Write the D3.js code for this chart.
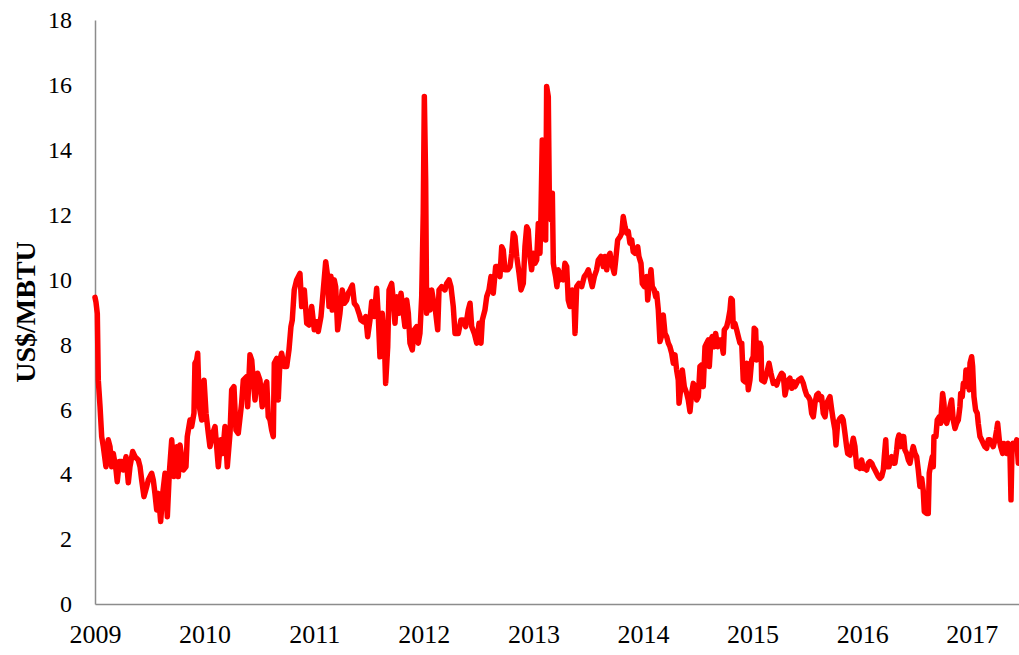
<!DOCTYPE html>
<html><head><meta charset="utf-8">
<script src="https://cdn.jsdelivr.net/npm/d3@7"></script>
<style>body{margin:0;background:#fff}svg{display:block}</style>
</head><body><svg id="c" width="1019" height="655"></svg>
<script>
const years = [2009.000,2009.009,2009.021,2009.030,2009.046,2009.061,2009.076,2009.100,2009.121,2009.137,2009.152,2009.167,2009.192,2009.203,2009.222,2009.244,2009.258,2009.283,2009.304,2009.319,2009.344,2009.365,2009.395,2009.411,2009.426,2009.447,2009.472,2009.486,2009.517,2009.532,2009.547,2009.563,2009.578,2009.599,2009.618,2009.639,2009.660,2009.678,2009.700,2009.721,2009.745,2009.760,2009.776,2009.806,2009.830,2009.842,2009.867,2009.882,2009.903,2009.912,2009.928,2009.937,2009.952,2009.974,2009.995,
2010.013,2010.034,2010.049,2010.074,2010.095,2010.110,2010.125,2010.147,2010.165,2010.186,2010.207,2010.232,2010.247,2010.268,2010.286,2010.307,2010.338,2010.353,2010.384,2010.393,2010.414,2010.430,2010.444,2010.460,2010.484,2010.505,2010.526,2010.551,2010.567,2010.581,2010.597,2010.612,2010.627,2010.636,2010.658,2010.672,2010.688,2010.703,2010.727,2010.749,2010.770,2010.788,2010.800,2010.818,2010.840,2010.855,2010.870,2010.886,2010.910,2010.932,2010.953,2010.977,
2011.001,2011.023,2011.037,2011.062,2011.083,2011.105,2011.123,2011.135,2011.153,2011.165,2011.183,2011.196,2011.214,2011.235,2011.256,2011.275,2011.297,2011.311,2011.327,2011.348,2011.366,2011.388,2011.409,2011.427,2011.448,2011.470,2011.488,2011.509,2011.525,2011.548,2011.570,2011.585,2011.600,2011.621,2011.640,2011.652,2011.671,2011.683,2011.707,2011.722,2011.737,2011.753,2011.774,2011.792,2011.813,2011.828,2011.844,2011.859,2011.874,2011.895,2011.913,2011.935,2011.950,2011.965,2011.981,2011.995,
2012.005,2012.017,2012.026,2012.041,2012.057,2012.072,2012.087,2012.102,2012.127,2012.139,2012.163,2012.193,2012.209,2012.230,2012.248,2012.269,2012.285,2012.315,2012.339,2012.360,2012.382,2012.406,2012.422,2012.437,2012.461,2012.483,2012.504,2012.522,2012.534,2012.558,2012.574,2012.595,2012.613,2012.634,2012.656,2012.680,2012.695,2012.711,2012.725,2012.741,2012.766,2012.787,2012.802,2012.817,2012.832,2012.848,2012.869,2012.887,2012.908,2012.923,2012.939,2012.953,2012.969,2012.984,2012.999,
2013.015,2013.030,2013.045,2013.060,2013.069,2013.081,2013.099,2013.112,2013.121,2013.136,2013.145,2013.161,2013.173,2013.182,2013.191,2013.203,2013.215,2013.227,2013.243,2013.258,2013.273,2013.288,2013.304,2013.318,2013.334,2013.355,2013.373,2013.380,2013.395,2013.416,2013.441,2013.464,2013.486,2013.501,2013.516,2013.537,2013.556,2013.577,2013.592,2013.617,2013.638,2013.653,2013.669,2013.683,2013.699,2013.714,2013.738,2013.751,2013.769,2013.790,2013.806,2013.820,2013.836,2013.851,2013.866,2013.881,2013.897,2013.911,2013.927,2013.952,2013.963,2013.982,2013.994,
2014.012,2014.034,2014.043,2014.055,2014.073,2014.085,2014.103,2014.116,2014.125,2014.140,2014.155,2014.176,2014.185,2014.201,2014.216,2014.231,2014.246,2014.262,2014.277,2014.292,2014.307,2014.322,2014.329,2014.347,2014.359,2014.377,2014.399,2014.413,2014.429,2014.444,2014.459,2014.474,2014.490,2014.505,2014.520,2014.535,2014.550,2014.566,2014.581,2014.596,2014.605,2014.620,2014.632,2014.650,2014.663,2014.681,2014.693,2014.712,2014.733,2014.742,2014.764,2014.778,2014.794,2014.803,2014.815,2014.824,2014.839,2014.855,2014.870,2014.885,2014.901,2014.915,2014.931,2014.946,2014.961,2014.976,2014.992,
2015.006,2015.015,2015.028,2015.037,2015.052,2015.067,2015.077,2015.083,2015.107,2015.129,2015.150,2015.168,2015.189,2015.204,2015.220,2015.234,2015.250,2015.265,2015.280,2015.296,2015.311,2015.326,2015.341,2015.357,2015.371,2015.387,2015.402,2015.417,2015.442,2015.463,2015.478,2015.494,2015.508,2015.524,2015.539,2015.554,2015.569,2015.585,2015.600,2015.615,2015.630,2015.645,2015.661,2015.676,2015.691,2015.706,2015.722,2015.736,2015.752,2015.761,2015.776,2015.797,2015.813,2015.827,2015.843,2015.858,2015.868,2015.889,2015.904,2015.919,2015.934,2015.950,2015.964,2015.980,2015.995,
2016.010,2016.025,2016.041,2016.056,2016.071,2016.087,2016.101,2016.117,2016.132,2016.147,2016.162,2016.178,2016.193,2016.202,2016.215,2016.226,2016.245,2016.254,2016.269,2016.284,2016.299,2016.315,2016.324,2016.336,2016.354,2016.366,2016.379,2016.390,2016.406,2016.421,2016.436,2016.452,2016.466,2016.482,2016.497,2016.512,2016.527,2016.543,2016.557,2016.567,2016.588,2016.603,2016.612,2016.628,2016.640,2016.649,2016.655,2016.673,2016.685,2016.704,2016.716,2016.734,2016.746,2016.755,2016.771,2016.786,2016.801,2016.816,2016.831,2016.847,2016.862,2016.877,2016.892,2016.899,2016.913,2016.923,2016.938,2016.947,2016.959,2016.977,2016.984,2016.999,
2017.008,2017.020,2017.035,2017.050,2017.059,2017.075,2017.090,2017.105,2017.120,2017.136,2017.151,2017.166,2017.181,2017.196,2017.212,2017.227,2017.236,2017.251,2017.264,2017.282,2017.294,2017.303,2017.318,2017.333,2017.348,2017.358,2017.367,2017.377,2017.394,2017.410,2017.425,2017.431];
const prices = [9.45,9.30,8.95,6.90,6.08,5.16,4.85,4.23,5.06,4.85,4.23,4.64,4.13,3.77,4.39,4.39,4.13,4.54,3.74,4.23,4.70,4.54,4.44,4.23,3.82,3.31,3.62,3.82,4.03,3.82,3.41,2.90,3.41,2.54,3.41,4.03,2.69,4.03,5.06,3.93,4.85,3.93,4.90,4.13,4.23,5.16,5.67,5.47,5.88,7.42,7.52,7.73,6.08,5.67,6.90,
5.88,5.26,4.85,5.26,5.47,4.85,4.23,5.06,4.64,5.47,4.23,5.26,6.60,6.70,5.36,5.26,6.19,6.90,7.01,6.08,7.68,7.52,6.90,6.29,7.11,6.90,6.08,6.70,6.85,5.77,5.67,5.36,5.16,7.42,7.57,6.29,7.52,7.73,7.32,7.32,7.83,8.55,8.75,9.68,9.99,10.09,10.19,9.17,9.68,8.65,8.60,9.17,
8.45,8.70,8.40,8.86,9.68,10.55,10.09,9.17,10.10,9.06,9.99,9.78,8.45,8.96,9.68,9.27,9.37,9.58,9.68,9.83,9.27,9.17,8.96,8.75,8.70,8.86,8.24,8.75,9.32,8.86,9.73,8.86,7.62,8.96,8.14,6.80,7.93,9.68,9.88,9.37,8.65,9.47,8.96,9.58,8.96,8.55,9.37,8.96,8.04,7.83,8.45,8.55,8.04,8.34,9.47,12.04,
15.64,13.07,8.96,9.68,9.06,9.68,9.37,9.17,8.45,9.68,9.78,9.68,9.88,9.99,9.78,9.17,8.34,8.34,8.75,8.75,8.55,9.06,9.27,8.55,8.34,8.04,8.65,8.04,8.75,9.06,9.47,9.68,10.09,9.58,10.40,10.40,10.09,11.01,10.91,10.30,10.30,10.40,10.81,11.43,11.32,10.71,10.20,9.68,9.88,11.01,11.63,11.53,10.71,10.30,10.81,
10.50,10.60,11.73,10.81,11.94,14.30,14.10,11.22,15.95,15.64,12.66,11.84,12.66,10.50,10.30,10.09,9.78,10.30,9.99,10.19,9.99,10.50,10.40,9.37,9.17,9.68,9.06,8.34,9.78,9.88,9.78,10.09,10.19,10.30,10.09,9.78,10.09,10.30,10.60,10.71,10.40,10.71,10.30,10.71,10.81,10.50,10.19,10.60,11.22,11.32,11.43,11.94,11.63,11.43,11.48,11.12,11.22,10.86,10.81,11.01,10.71,10.50,9.88,
9.78,10.09,9.37,9.78,10.30,9.78,9.68,9.47,9.58,9.06,8.09,8.34,8.91,8.34,8.24,8.04,7.93,7.73,7.42,7.68,7.21,6.90,6.19,6.70,7.21,6.70,6.49,6.29,5.93,6.49,6.80,6.70,6.29,6.39,7.32,7.37,6.70,7.93,8.04,8.14,7.32,8.14,8.24,7.93,8.34,7.93,8.14,8.14,7.73,8.45,8.55,8.75,9.06,9.42,9.37,8.55,8.65,8.45,8.24,8.04,8.04,6.90,6.85,7.42,6.60,6.90,7.52,
7.62,8.50,8.45,7.52,7.62,8.04,7.93,6.90,6.85,7.11,7.42,7.11,6.80,6.85,6.75,6.90,7.01,7.11,7.06,6.44,6.70,6.90,6.96,6.65,6.85,6.70,6.80,6.90,6.96,6.80,6.60,6.44,6.39,6.29,5.88,5.77,6.19,6.44,6.49,6.29,6.39,5.88,5.77,6.19,6.29,6.39,5.98,5.67,5.36,4.90,5.57,5.72,5.77,5.67,5.26,4.85,4.64,4.59,4.85,5.11,4.85,4.23,4.23,4.18,4.44,
4.18,4.18,4.13,4.34,4.39,4.34,4.23,4.13,4.03,3.93,3.87,3.93,4.13,4.54,5.06,4.23,4.23,4.44,4.54,4.34,4.34,4.75,5.06,5.21,4.85,5.16,5.16,4.75,4.64,4.44,4.34,4.64,4.85,4.64,4.54,4.13,3.62,3.87,3.51,2.85,2.79,2.79,4.03,4.34,4.54,4.23,5.16,5.16,5.67,5.77,5.57,6.49,6.19,5.67,5.57,5.77,6.08,6.29,5.67,5.41,5.57,5.67,6.08,6.49,6.39,6.80,6.70,7.21,7.01,6.60,7.42,7.62,
7.32,6.39,5.98,5.88,5.57,5.16,5.06,4.95,4.85,4.80,5.06,5.06,4.95,4.85,5.06,5.36,5.57,5.06,4.85,4.64,4.95,4.75,4.64,4.95,4.75,3.21,4.75,4.95,4.85,5.06,4.34,4.40];
const yTicks = [0,2,4,6,8,10,12,14,16,18];
const xTicks = [2009,2010,2011,2012,2013,2014,2015,2016,2017];
const yTitle = "US$/MBTU";

const svg = d3.select("#c");
const mLeft = 95, mRight = 1019, mTop = 20, mBottom = 604;
const x = d3.scaleLinear().domain([2009, d3.max(years)]).range([mLeft, mRight]);
const y = d3.scaleLinear().domain([0, 18]).range([mBottom, mTop]);
const data = years.map((t, i) => ({t, v: prices[i]}));

const font = "'Liberation Serif','Times New Roman',serif";

const xAxis = svg.append("g").attr("transform", `translate(0,${mBottom})`)
  .call(d3.axisBottom(x).tickValues(xTicks).tickFormat(d3.format("d")).tickSize(0).tickSizeOuter(0).tickPadding(21));
const yAxis = svg.append("g").attr("transform", `translate(${mLeft},0)`)
  .call(d3.axisLeft(y).tickValues(yTicks).tickSize(0).tickSizeOuter(0).tickPadding(23));
[xAxis, yAxis].forEach(g => {
  g.select(".domain").attr("stroke", "#8c8c8c").attr("stroke-width", 1.5);
  g.selectAll("text").attr("font-family", font).attr("fill", "#000");
});
xAxis.selectAll("text").attr("font-size", 26);
yAxis.selectAll("text").attr("font-size", 24);

svg.append("text")
  .attr("transform", `translate(35,${(mTop+mBottom)/2}) rotate(-90)`)
  .attr("text-anchor", "middle")
  .attr("font-family", font).attr("font-weight", "bold").attr("font-size", 28)
  .text(yTitle);

svg.append("path").datum(data)
  .attr("fill", "none").attr("stroke", "#ff0000").attr("stroke-width", 5.5)
  .attr("stroke-linejoin", "round").attr("stroke-linecap", "round")
  .attr("d", d3.line().x(d => x(d.t)).y(d => y(d.v)));
</script></body></html>
